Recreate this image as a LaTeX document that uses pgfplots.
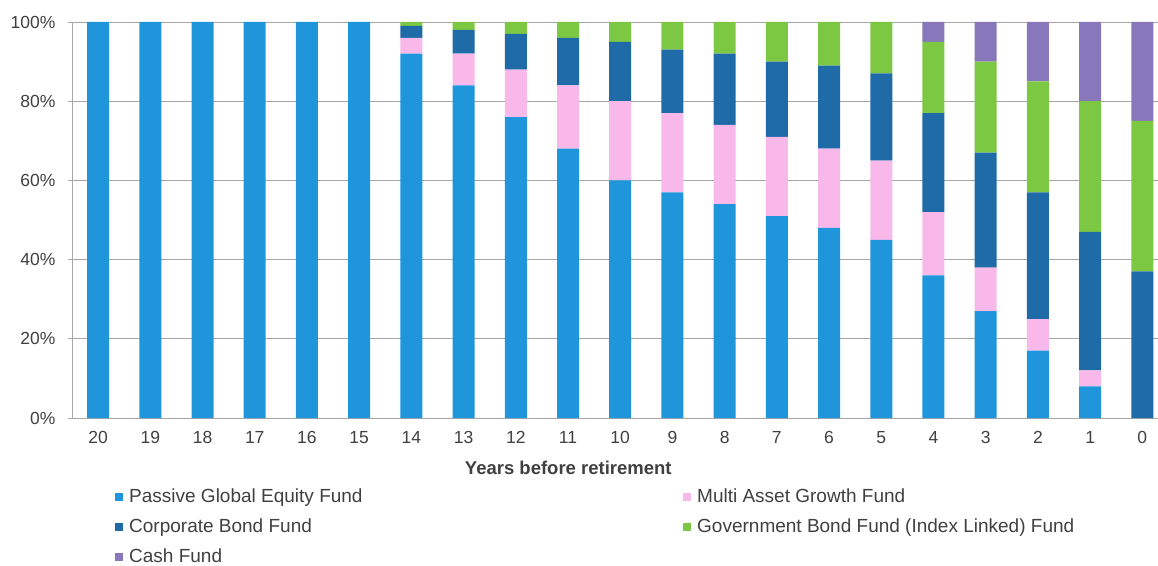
\documentclass[border=0pt]{standalone}
\usepackage{fontspec}
\setmainfont{Liberation Sans}
\usepackage{pgfplots}
\pgfplotsset{compat=1.18}
\usepackage{pgfplotstable}

\definecolor{eqc}{HTML}{1F96DC}
\definecolor{magc}{HTML}{F8B9EA}
\definecolor{corpc}{HTML}{1E6BA8}
\definecolor{govc}{HTML}{7CC843}
\definecolor{cashc}{HTML}{8877BB}
\definecolor{txt}{HTML}{404040}
\definecolor{gridc}{HTML}{A6A6A6}

\pgfplotstableread{
x eq mag corp gov cash
0 100 0 0 0 0
1 100 0 0 0 0
2 100 0 0 0 0
3 100 0 0 0 0
4 100 0 0 0 0
5 100 0 0 0 0
6 92 4 3 1 0
7 84 8 6 2 0
8 76 12 9 3 0
9 68 16 12 4 0
10 60 20 15 5 0
11 57 20 16 7 0
12 54 20 18 8 0
13 51 20 19 10 0
14 48 20 21 11 0
15 45 20 22 13 0
16 36 16 25 18 5
17 27 11 29 23 10
18 17 8 32 28 15
19 8 4 35 33 20
20 0 0 37 38 25
}\data

\begin{document}
\begin{tikzpicture}
\begin{axis}[
  name=ax,
  width=1086pt, height=396pt, scale only axis,
  xmin=-0.5, xmax=20.3, ymin=0, ymax=100,
  ybar stacked, bar width=22pt,
  axis x line*=bottom, axis y line*=left,
  axis line style={draw=gridc, line width=0.8pt, -},
  ymajorgrids, grid style={draw=gridc, line width=0.8pt},
  xtick={0,...,20},
  xticklabels={20,19,18,17,16,15,14,13,12,11,10,9,8,7,6,5,4,3,2,1,0},
  ytick={0,20,40,60,80,100},
  yticklabels={0\%,20\%,40\%,60\%,80\%,100\%},
  x tick style={draw=none},
  y tick style={draw=gridc, line width=0.8pt},
  tick align=outside, major tick length=4pt,
  ticklabel style={font=\fontsize{17.5}{20}\selectfont, text=txt},
  xticklabel style={yshift=-6pt},
  yticklabel style={xshift=-9pt},
  xlabel={Years before retirement},
  xlabel style={font=\fontsize{18.5}{22}\selectfont\bfseries, text=txt,
     at={(axis description cs:0.457,0)}, anchor=center, yshift=-50pt},
  legend columns=2,
  legend cell align=left,
  legend image code/.code={\fill[#1] (0pt,-4pt) rectangle (8pt,4pt);},
  legend style={draw=none, fill=none, inner sep=0pt,
     at={(axis description cs:0,0)}, anchor=north west,
     xshift=43pt, yshift=-64pt,
     /tikz/column sep=0pt,
     nodes={font=\fontsize{19}{22}\selectfont, text=txt,
            text height=14pt, text depth=4pt, inner ysep=6pt, inner xsep=6pt}},
]
\addplot[fill=eqc, draw=none] table[x=x,y=eq]{\data};
\addlegendentry{\makebox[548pt][l]{Passive Global Equity Fund}}
\addplot[fill=magc, draw=none] table[x=x,y=mag]{\data};
\addlegendentry{Multi Asset Growth Fund}
\addplot[fill=corpc, draw=none] table[x=x,y=corp]{\data};
\addlegendentry{\makebox[548pt][l]{Corporate Bond Fund}}
\addplot[fill=govc, draw=none] table[x=x,y=gov]{\data};
\addlegendentry{Government Bond Fund (Index Linked) Fund}
\addplot[fill=cashc, draw=none] table[x=x,y=cash]{\data};
\addlegendentry{Cash Fund}
\end{axis}
\pgfresetboundingbox
\path[use as bounding box] (ax.south west) ++(-72pt,-147pt) rectangle ++(1158pt,565pt);
\end{tikzpicture}
\end{document}
